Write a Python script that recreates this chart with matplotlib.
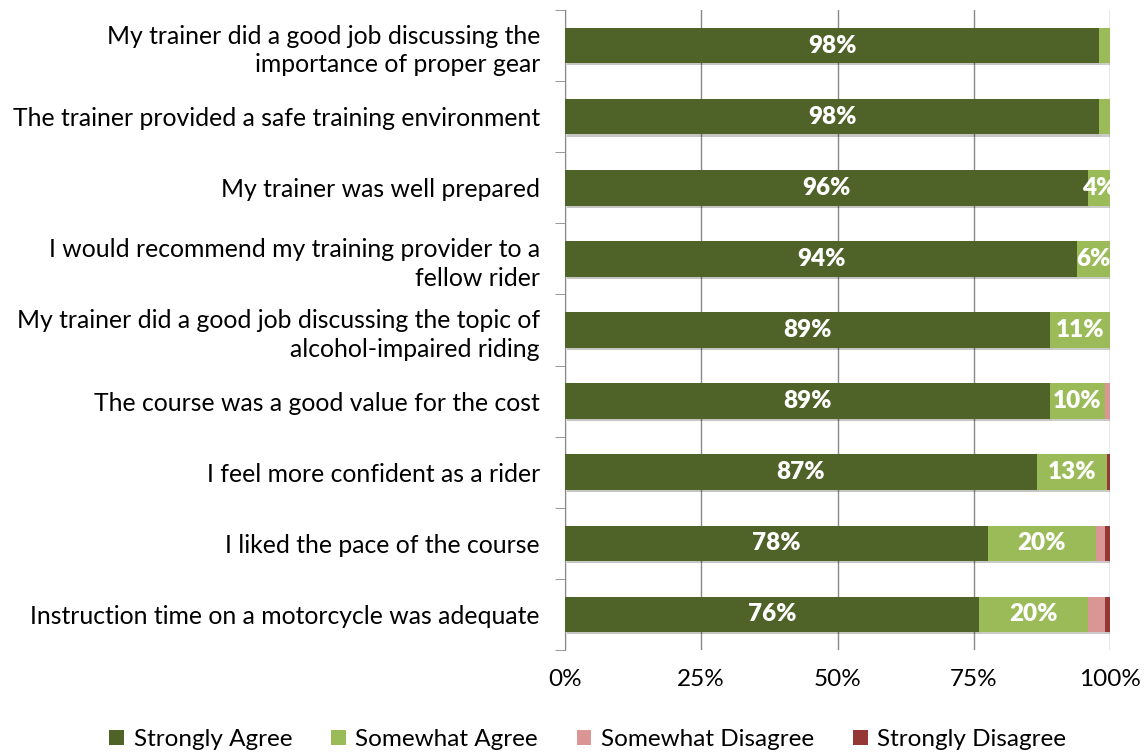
import numpy as np
import matplotlib.pyplot as plt
import matplotlib.patheffects as pe
from matplotlib.patches import Patch

plt.rcParams['font.family'] = ['Lato', 'DejaVu Sans']

questions = [
    'My trainer did a good job discussing the\nimportance of proper gear',
    'The trainer provided a safe training environment',
    'My trainer was well prepared',
    'I would recommend my training provider to a\nfellow rider',
    'My trainer did a good job discussing the topic of\nalcohol-impaired riding',
    'The course was a good value for the cost',
    'I feel more confident as a rider',
    'I liked the pace of the course',
    'Instruction time on a motorcycle was adequate',
]
strongly_agree = [98, 98, 96, 94, 89, 89, 86.6, 77.6, 76]
somewhat_agree = [2, 2, 4, 6, 11, 10, 12.8, 19.8, 20]
somewhat_disagree = [0, 0, 0, 0, 0, 1, 0, 1.6, 3]
strongly_disagree = [0, 0, 0, 0, 0, 0, 1, 1, 1]

series = [
    ('Strongly Agree', strongly_agree, '#4F6228'),
    ('Somewhat Agree', somewhat_agree, '#9BBB59'),
    ('Somewhat Disagree', somewhat_disagree, '#D99694'),
    ('Strongly Disagree', strongly_disagree, '#953735'),
]

fig = plt.figure(figsize=(11.46, 7.55), dpi=100)
ax = fig.add_axes([565 / 1146, 1 - 650 / 755, 545 / 1146, 640 / 755])

y = np.arange(len(questions))
left = np.zeros(len(questions))
shadow = [pe.SimplePatchShadow(offset=(1.5, -1.5), alpha=0.25), pe.Normal()]
handles = []
for name, vals, col in series:
    vals = np.array(vals, dtype=float)
    bars = ax.barh(y, vals, left=left, height=0.5, color=col, zorder=3)
    for b in bars:
        b.set_path_effects(shadow)
    for yi, l, v in zip(y, left, vals):
        if v >= 4:
            ax.text(l + v / 2, yi, f'{v:.0f}%', ha='center', va='center',
                    color='white', fontsize=17.5, fontweight='heavy', zorder=4)
    left += vals
    handles.append(Patch(facecolor=col, label=name))

ax.set_xlim(0, 100)
ax.set_ylim(len(questions) - 0.5, -0.5)
ax.set_xticks([0, 25, 50, 75, 100])
ax.set_xticklabels(['0%', '25%', '50%', '75%', '100%'], fontsize=17.5)
ax.set_yticks(y)
ax.set_yticklabels(questions, fontsize=17.8, linespacing=1.3)
ax.set_yticks(np.arange(-0.5, len(questions), 1), minor=True)
ax.tick_params(axis='y', which='major', length=0, pad=18)
ax.tick_params(axis='y', which='minor', length=7, color='#888888')
ax.tick_params(axis='x', length=0, pad=14)
ax.grid(axis='x', color='#888888', linewidth=1, zorder=0)
for s in ['top', 'right', 'bottom']:
    ax.spines[s].set_visible(False)
ax.spines['left'].set_color('#888888')

ax.legend(handles=handles, loc='center', bbox_to_anchor=(0.042, -0.14), ncol=4,
          frameon=False, fontsize=17.5, handlelength=0.6, handleheight=0.6,
          handletextpad=0.4, columnspacing=1.6)

fig.savefig('out.png', dpi=100)
